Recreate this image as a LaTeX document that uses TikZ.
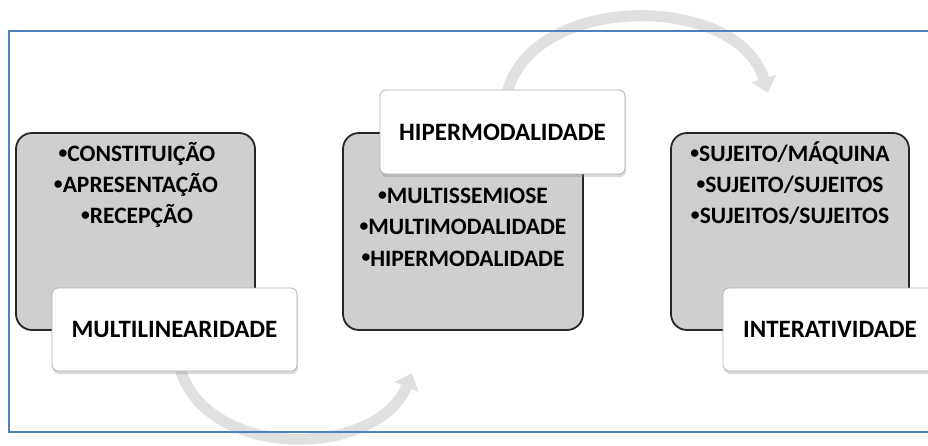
\documentclass[tikz,border=0pt]{standalone}
\usepackage{fontspec}
\setmainfont{Carlito}
\usetikzlibrary{arrows.meta,shadows}
\definecolor{frameblue}{RGB}{79,129,189}
\definecolor{boxgray}{RGB}{207,207,207}
\definecolor{arrowgray}{RGB}{224,224,224}
\newcommand\smallbul{\raisebox{0.15em}{\scalebox{0.75}{•}}}
\begin{document}
\begin{tikzpicture}[x=1pt,y=-1pt,
  graybox/.style={draw=black!85, line width=1.8pt, fill=boxgray, rounded corners=16pt, inner sep=0pt},
  whitebox/.style={draw=black!30, line width=0.8pt, fill=white, rounded corners=6pt, inner sep=0pt,
    font=\fontsize{25}{29}\selectfont\bfseries,
    drop shadow={shadow xshift=1pt, shadow yshift=-3pt, opacity=0.3}},
  bullet/.style={anchor=base, font=\fontsize{23.5}{27}\selectfont\bfseries, inner sep=0pt},
  flowarrow/.style={line width=11pt, draw=arrowgray, -{Triangle[width=25pt,length=15pt]}}]
\useasboundingbox (0,0) rectangle (928,446);
\clip (0,0) rectangle (928,446);

% gray boxes
\node[graybox, minimum width=239pt, minimum height=197pt] (b1) at (135.5,231.5) {};
\node[graybox, minimum width=240pt, minimum height=197pt] (b2) at (463,231.5) {};
\node[graybox, minimum width=238pt, minimum height=197pt] (b3) at (790,231.5) {};

% bullet texts
\node[bullet] (t11) at (137,162) {\smallbul CONSTITUIÇÃO};
\node[bullet] (t12) at (136,193) {\smallbul APRESENTAÇÃO};
\node[bullet] (t13) at (137,224) {\smallbul RECEPÇÃO};
\node[bullet] (t21) at (463,204) {\smallbul MULTISSEMIOSE};
\node[bullet] (t22) at (463,235) {\smallbul MULTIMODALIDADE};
\node[bullet] (t23) at (463,266) {\smallbul HIPERMODALIDADE};
\node[bullet] (t31) at (790,162) {\smallbul SUJEITO/MÁQUINA};
\node[bullet] (t32) at (790,193) {\smallbul SUJEITO/SUJEITOS};
\node[bullet] (t33) at (790,224) {\smallbul SUJEITOS/SUJEITOS};

% label positions
\coordinate (l1c) at (174.5,329.5);
\coordinate (l2c) at (502.5,132);
\coordinate (e1) at (412,373);
\coordinate (e2) at (768,93);

% arrows
\path (l1c) ++(5,37) coordinate (s1);
\path (l2c) ++(4,-37) coordinate (s2);
\draw[flowarrow] (s1) .. controls (205,462) and (378,458) .. (e1);
\draw[flowarrow] (s2) .. controls (530,-8) and (738,-8) .. (e2);

% white labels
\node[whitebox, minimum width=245pt, minimum height=83pt] (l1) at (l1c) {MULTILINEARIDADE};
\node[whitebox, minimum width=245pt, minimum height=84pt] (l2) at (l2c) {HIPERMODALIDADE};
\node[whitebox, minimum width=214pt, minimum height=83pt] (l3) at (830,329.5) {INTERATIVIDADE};

% frame
\draw[frameblue, line width=2pt] (935,31) -- (9,31) -- (9,432) -- (935,432);
\end{tikzpicture}
\end{document}
